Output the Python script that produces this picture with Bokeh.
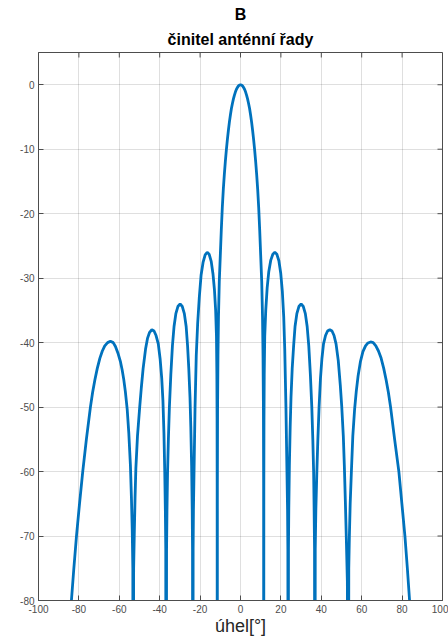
from bokeh.plotting import figure
from bokeh.models import Title, Range1d, FixedTicker, ColumnDataSource
from bokeh.embed import file_html
from bokeh.resources import INLINE

# úhel [deg] and činitel anténní řady [dB]
angle_deg = [
    # lobe around -64
    -86.0, -84.8, -83.7, -82.5, -81.2, -79.7, -78.1, -76.3, -74.3, -73.2, -72.1, -70.9,
    -69.6, -68.4, -67.2, -65.8, -64.4, -63.0, -61.9, -60.7, -59.4, -58.6, -57.8, -57.0,
    -56.1, -55.3, -54.5, -54.0, -53.6, -53.3, -53.1,
    # lobe around -44
    -52.9, -52.6, -52.2, -51.8, -51.0, -49.9, -49.1, -48.2, -47.0, -46.0, -45.0, -43.9,
    -42.8, -41.8, -40.7, -39.8, -39.0, -38.4, -37.9, -37.5, -37.2, -37.0, -36.8,
    # lobe around -30
    -36.6, -36.4, -36.1, -35.7, -35.2, -34.5, -33.7, -32.9, -32.0, -31.0, -29.9, -28.8,
    -27.8, -26.9, -26.2, -25.6, -25.0, -24.6, -24.2, -23.9, -23.75, -23.6,
    # lobe around -17
    -23.45, -23.3, -23.0, -22.5, -21.9, -21.2, -20.4, -19.5, -18.5, -17.5, -16.5, -15.5,
    -14.5, -13.6, -12.9, -12.3, -11.9, -11.7, -11.6, -11.55, -11.5,
    # main lobe
    -11.45, -11.35, -11.15, -10.9, -10.5, -10.0, -9.5, -9.0, -8.5, -8.0, -7.5, -7.0,
    -6.5, -6.0, -5.5, -5.0, -4.5, -4.0, -3.5, -3.0, -2.5, -2.0, -1.5, -1.0, -0.5, 0.0,
    0.5, 1.0, 1.5, 2.0, 2.5, 3.0, 3.5, 4.0, 4.5, 5.0, 5.5, 6.0, 6.5, 7.0, 7.5, 8.0,
    8.5, 9.0, 9.5, 10.0, 10.5, 10.9, 11.15, 11.35, 11.45, 11.5,
    # lobe around 17
    11.55, 11.62, 11.75, 12.0, 12.5, 13.2, 14.0, 15.0, 16.0, 17.0, 18.0, 19.0,
    19.9, 20.7, 21.4, 21.9, 22.5, 23.0, 23.3, 23.45, 23.6,
    # lobe around 30
    23.75, 23.9, 24.2, 24.6, 25.0, 25.6, 26.3, 27.0, 27.9, 28.9, 30.0, 31.1,
    32.1, 33.0, 33.8, 34.6, 35.3, 35.8, 36.2, 36.45, 36.65, 36.8,
    # lobe around 44
    37.0, 37.3, 37.8, 38.3, 38.9, 39.6, 40.3, 41.1, 42.1, 43.1, 44.2, 45.3,
    46.3, 47.3, 48.4, 49.4, 50.1, 50.9, 51.4, 51.9, 52.4, 52.9, 53.4,
    # lobe around 64
    53.6, 53.9, 54.3, 54.9, 55.6, 56.5, 57.3, 58.2, 59.4, 60.6, 61.9, 63.1,
    64.4, 65.7, 67.0, 68.3, 69.6, 70.9, 72.1, 73.2, 74.3, 76.3, 78.4, 79.9,
    81.4, 82.6, 83.7, 84.9, 86.0,
]
af_db = [
    # lobe around -64
    -92, -85, -80, -75, -70, -65, -60, -55, -50, -47.7, -45.8, -44.0,
    -42.4, -41.3, -40.5, -40.0, -39.8, -40.0, -40.6, -41.6, -43.0, -44.2, -45.7, -47.6,
    -50.3, -54.0, -59, -64, -69, -75, -150,
    # lobe around -44
    -75, -70, -64, -59.5, -54.5, -50, -47, -44.0, -41.0, -39.3, -38.4, -38.0,
    -38.2, -38.9, -40.2, -42.5, -45.5, -49, -54, -60, -66, -72, -150,
    # lobe around -30
    -72, -66, -60, -55, -50, -45, -40.5, -37.5, -35.5, -34.4, -34.0, -34.4,
    -35.5, -37.5, -40.5, -44, -48.5, -53, -59, -66, -72, -150,
    # lobe around -17
    -72, -66, -60, -50, -42, -37, -33, -29.5, -27.5, -26.4, -26.0, -26.3,
    -27.4, -29.4, -31.8, -35.0, -39, -45, -52, -62, -150,
    # main lobe
    -62, -50, -42, -36, -30.5, -26.5, -22.5, -19.0, -16.2, -13.9, -11.9, -10.1,
    -8.5, -7.1, -5.8, -4.7, -3.7, -2.9, -2.2, -1.6, -1.1, -0.7, -0.4, -0.18, -0.05, 0.0,
    -0.05, -0.18, -0.4, -0.7, -1.1, -1.6, -2.2, -2.9, -3.7, -4.7, -5.8, -7.1, -8.5, -10.1, -11.9, -13.9,
    -16.2, -19.0, -22.5, -26.5, -30.5, -36, -42, -50, -62, -150,
    # lobe around 17
    -62, -52, -45, -39, -35, -31.5, -29.0, -27.2, -26.3, -26.0, -26.3, -27.3,
    -29.2, -32.0, -36.0, -41, -50, -60, -66, -72, -150,
    # lobe around 30
    -72, -66, -59, -53, -48.5, -44, -40.5, -37.5, -35.5, -34.4, -34.0, -34.4,
    -35.5, -37.5, -40.5, -45, -50, -55, -60, -66, -72, -150,
    # lobe around 44
    -72, -66, -60, -55, -50, -45.5, -42.5, -40.2, -38.9, -38.2, -38.0, -38.2,
    -38.9, -40.2, -42.8, -46.6, -49.8, -54.5, -59, -64.5, -70.5, -77, -150,
    # lobe around 64
    -75, -70, -65, -60, -54.5, -50.3, -47.6, -45.2, -42.9, -41.4, -40.5, -40.05,
    -39.9, -40.0, -40.5, -41.3, -42.4, -44.0, -45.8, -47.7, -50, -55, -60, -65,
    -70, -75, -80, -85, -92,
]

x_ticks = [-100, -80, -60, -40, -20, 0, 20, 40, 60, 80, 100]
y_ticks = [-80, -70, -60, -50, -40, -30, -20, -10, 0]
x_tick_labels = ["-100", "-80", "-60", "-40", "-20", "0", "20", "40", "60", "80", "100"]
y_tick_labels = ["-80", "-70", "-60", "-50", "-40", "-30", "-20", "-10", "0"]
x_lim = (-100, 100)
y_lim = (-80, 5)

FONT = "Liberation Sans"
AX_COL = "#4d4d4d"

p = figure(width=448, height=639, output_backend="svg", toolbar_location=None,
           x_range=Range1d(*x_lim), y_range=Range1d(*y_lim), title=None,
           min_border_left=38, min_border_right=6, min_border_top=52,
           min_border_bottom=39, background_fill_color="white",
           border_fill_color="white")

src = ColumnDataSource(data=dict(x=angle_deg, y=af_db))
p.line("x", "y", source=src, line_color="#0072BD", line_width=2.8)

# bottom / left axes
p.xaxis.ticker = FixedTicker(ticks=x_ticks)
p.yaxis.ticker = FixedTicker(ticks=y_ticks)
p.xaxis.major_label_overrides = dict(zip(x_ticks, x_tick_labels))
p.yaxis.major_label_overrides = dict(zip(y_ticks, y_tick_labels))
for ax in p.xaxis + p.yaxis:
    ax.axis_line_color = AX_COL
    ax.major_tick_line_color = AX_COL
    ax.major_tick_in = 5
    ax.major_tick_out = 0
    ax.minor_tick_line_color = None
    ax.major_label_text_font = FONT
    ax.major_label_text_font_size = "10px"
    ax.major_label_text_color = AX_COL
p.xaxis.major_label_standoff = 4
p.yaxis.major_label_standoff = 4
p.xaxis.axis_label = "úhel[°]"
p.xaxis.axis_label_text_font = FONT
p.xaxis.axis_label_text_font_size = "18px"
p.xaxis.axis_label_text_font_style = "normal"
p.xaxis.axis_label_text_color = "#262626"
p.xaxis.axis_label_standoff = 0

# box ticks on top and right edges (inner ticks, clipped to the frame)
p.scatter(x=x_ticks, y=[y_lim[1]] * len(x_ticks), marker="dash", size=10,
          angle=1.5708, line_color=AX_COL, line_width=1)
p.scatter(x=[x_lim[1]] * len(y_ticks), y=y_ticks, marker="dash", size=10,
          line_color=AX_COL, line_width=1)

p.xgrid.ticker = FixedTicker(ticks=x_ticks)
p.ygrid.ticker = FixedTicker(ticks=y_ticks)
p.grid.grid_line_color = "#262626"
p.grid.grid_line_alpha = 0.15
p.outline_line_color = AX_COL

p.add_layout(Title(text="činitel anténní řady", align="center", text_font=FONT,
                   text_font_size="16px", text_font_style="bold",
                   text_color="#000000", standoff=10), "above")
p.add_layout(Title(text="B", align="center", text_font=FONT,
                   text_font_size="16px", text_font_style="bold",
                   text_color="#000000", standoff=1), "above")

open("out.html", "w").write(file_html(p, INLINE))
